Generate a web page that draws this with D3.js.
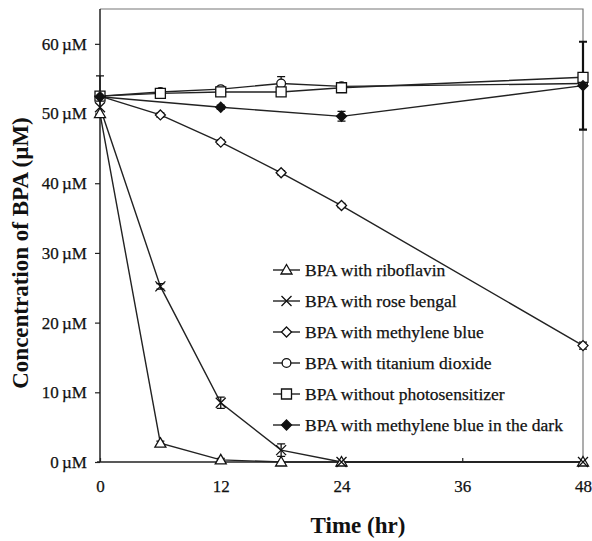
<!DOCTYPE html>
<html lang="en">
<head>
<meta charset="UTF-8">
<title>BPA concentration vs time</title>
<script src="https://d3js.org/d3.v7.min.js"></script>
<style>
  body { margin: 0; padding: 0; background: #fff; }
  svg { display: block; font-family: "Liberation Serif", "DejaVu Serif", serif; }
</style>
</head>
<body>
<svg width="592" height="541"></svg>
<script>
const width = 592, height = 541;
const margin = { left: 100, right: 9, top: 9, bottom: 79 };

// tick labels
const xTicks = [0, 12, 24, 36, 48];
const yTicks = [0, 10, 20, 30, 40, 50, 60];

// series names (legend order) and marker kinds
const seriesNames = [
  "BPA with riboflavin",
  "BPA with rose bengal",
  "BPA with methylene blue",
  "BPA with titanium dioxide",
  "BPA without photosensitizer",
  "BPA with methylene blue in the dark"
];
const markerKinds = ["triangle", "cross", "diamond", "circle", "square", "filledDiamond"];

// time points (hr) and concentrations (µM)
const riboTime = [0, 6, 12, 18, 24, 48];
const riboConc = [50.0, 2.7, 0.3, 0, 0, 0];
const riboErr  = [0, 0.3, 0.2, 0, 0, 0];

const roseTime = [0, 6, 12, 18, 24, 48];
const roseConc = [50.9, 25.2, 8.5, 1.7, 0, 0];
const roseErr  = [0, 0.4, 0.8, 0.9, 0, 0];

const mbTime = [0, 6, 12, 18, 24, 48];
const mbConc = [52.5, 49.8, 45.9, 41.5, 36.8, 16.7];
const mbErr  = [0, 0.3, 0.3, 0.3, 0.3, 0.5];

const tioTime = [0, 6, 12, 18, 24, 48];
const tioConc = [52.5, 53.1, 53.5, 54.3, 53.9, 54.3];
const tioErr  = [0, 0.3, 0.3, 1.0, 0.3, 0];

const noneTime = [0, 6, 12, 18, 24, 48];
const noneConc = [52.5, 52.9, 53.1, 53.1, 53.7, 55.2];
const noneErr  = [2.9, 0.3, 0.3, 0.4, 0.3, 0];

const darkTime = [0, 12, 24, 48];
const darkConc = [52.4, 50.9, 49.6, 54.0];
const darkErr  = [0, 0.3, 0.7, 6.3];

const allTimes = [riboTime, roseTime, mbTime, tioTime, noneTime, darkTime];
const allConc = [riboConc, roseConc, mbConc, tioConc, noneConc, darkConc];
const allErr = [riboErr, roseErr, mbErr, tioErr, noneErr, darkErr];

const series = seriesNames.map((name, i) => ({
  name,
  kind: markerKinds[i],
  points: allTimes[i].map((t, j) => ({ t, c: allConc[i][j], e: allErr[i][j] }))
}));

const svg = d3.select("svg");

const x = d3.scaleLinear().domain([0, 48]).range([margin.left, width - margin.right]);
const y = d3.scaleLinear().domain([0, 65]).range([height - margin.bottom, margin.top]);

// frame (top and right in grey)
svg.append("path")
  .attr("d", `M${x(0)},${y(65)}H${x(48)}V${y(0)}`)
  .attr("fill", "none")
  .attr("stroke", "#777")
  .attr("stroke-width", 1.2);

// y axis
const yAxis = svg.append("g")
  .attr("transform", `translate(${x(0)},0)`)
  .call(d3.axisLeft(y).tickValues(yTicks).tickSize(5).tickPadding(8)
    .tickFormat(d => d + "\u2009\u00b5M"));
yAxis.select(".domain").attr("d", `M0,${y(0)}V${y(65)}`).attr("stroke", "#222").attr("stroke-width", 1.5);
yAxis.selectAll(".tick line").attr("stroke", "#222").attr("stroke-width", 1.2);
yAxis.selectAll("text").attr("font-size", 17).attr("fill", "#111")
  .attr("stroke", "#111").attr("stroke-width", 0.25)
  .attr("font-family", "Liberation Serif, serif");

// x axis (ticks inward)
const xAxis = svg.append("g")
  .attr("transform", `translate(0,${y(0)})`)
  .call(d3.axisBottom(x).tickValues(xTicks).tickSize(-4).tickPadding(18));
xAxis.select(".domain").attr("d", `M${x(0) - 3},0H${x(48)}`).attr("stroke", "#222").attr("stroke-width", 1.5);
xAxis.selectAll(".tick line").attr("stroke", "#222").attr("stroke-width", 1.2);
xAxis.selectAll("text").attr("font-size", 17).attr("fill", "#111")
  .attr("stroke", "#111").attr("stroke-width", 0.25)
  .attr("font-family", "Liberation Serif, serif");

// axis titles
svg.append("text")
  .attr("x", 358)
  .attr("y", 533)
  .attr("text-anchor", "middle")
  .attr("font-weight", "bold")
  .attr("font-size", 23)
  .attr("fill", "#111")
  .text("Time (hr)");

svg.append("text")
  .attr("transform", `translate(28,253) rotate(-90)`)
  .attr("text-anchor", "middle")
  .attr("font-weight", "bold")
  .attr("font-size", 23)
  .attr("fill", "#111")
  .text("Concentration of BPA (\u00b5M)");

// marker shapes
function markerPath(kind) {
  switch (kind) {
    case "triangle": return "M0,-5.5L5.5,4L-5.5,4Z";
    case "cross": return "M-5,-5L5,5M-5,5L5,-5";
    case "diamond":
    case "filledDiamond": return "M0,-5L5,0L0,5L-5,0Z";
    case "circle": return d3.symbol(d3.symbolCircle, 60)();
    case "square": return "M-5,-5H5V5H-5Z";
  }
}

const line = d3.line().x(d => x(d.t)).y(d => y(d.c));

// lines
svg.append("g").selectAll("path")
  .data(series)
  .join("path")
  .attr("d", d => line(d.points))
  .attr("fill", "none")
  .attr("stroke", "#222")
  .attr("stroke-width", 1.4);

// error bars
const errs = series.flatMap(s => s.points.filter(p => p.e > 0));
const eg = svg.append("g").attr("stroke", "#111").attr("stroke-width", 1.3);
eg.selectAll("path")
  .data(errs)
  .join("path")
  .attr("fill", "none")
  .attr("d", d => {
    const cx = x(d.t), y1 = y(d.c + d.e), y2 = y(d.c - d.e);
    return `M${cx},${y1}V${y2}M${cx - 4},${y1}H${cx + 4}M${cx - 4},${y2}H${cx + 4}`;
  })
  .attr("stroke-width", d => d.e > 3 ? 2.2 : 1.3);

// markers
series.forEach(s => {
  svg.append("g").selectAll("path")
    .data(s.points)
    .join("path")
    .attr("transform", d => `translate(${x(d.t)},${y(d.c)})`)
    .attr("d", markerPath(s.kind))
    .attr("fill", s.kind === "filledDiamond" ? "#111" : (s.kind === "cross" ? "none" : "#fff"))
    .attr("stroke", "#111")
    .attr("stroke-width", 1.3);
});

// legend
const legend = svg.append("g").attr("transform", "translate(273,270)");
const rows = legend.selectAll("g")
  .data(series)
  .join("g")
  .attr("transform", (d, i) => `translate(0,${i * 31})`);
rows.append("line")
  .attr("x1", 0).attr("x2", 27)
  .attr("stroke", "#222").attr("stroke-width", 1.4);
rows.append("path")
  .attr("transform", "translate(13.5,0)")
  .attr("d", d => markerPath(d.kind))
  .attr("fill", d => d.kind === "filledDiamond" ? "#111" : (d.kind === "cross" ? "none" : "#fff"))
  .attr("stroke", "#111")
  .attr("stroke-width", 1.3);
rows.append("text")
  .attr("x", 32)
  .attr("dy", "0.35em")
  .attr("font-size", 17.5)
  .attr("fill", "#111")
  .attr("stroke", "#111")
  .attr("stroke-width", 0.25)
  .text(d => d.name);
</script>
</body>
</html>
